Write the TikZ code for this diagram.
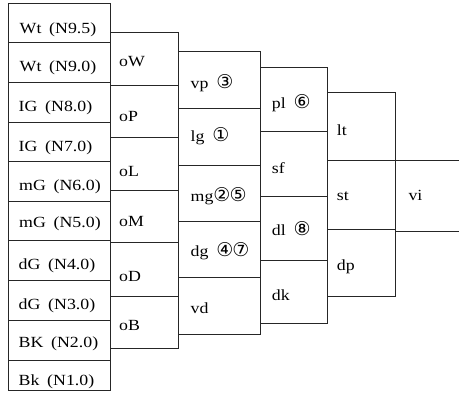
\documentclass[tikz,border=0pt]{standalone}
\usepackage{fontspec}
\setmainfont[FakeStretch=1.15]{Liberation Serif}
\newfontfamily\circfont{DejaVu Sans}
\newcommand\cn[1]{{\circfont\fontsize{19}{19}\selectfont #1}}
\newcommand\gapsp{\hspace{0.5em}}
\newcommand\cellbox[5]{\node[cellst, anchor=north west, minimum width={(#4-#2)*1pt}, minimum height={(#5-#3)*1pt}] (#1) at (#2,#3) {};}
\begin{document}
\begin{tikzpicture}[x=1pt,y=-1pt,
  cellst/.style={draw=black!85, line width=0.7pt, inner sep=0pt, outer sep=0pt},
  lbl/.style={anchor=base west, inner sep=0pt, font=\fontsize{15.5}{16}\selectfont, text=black},
  edge/.style={draw=black!85, line width=0.7pt}]
\useasboundingbox (0,0) rectangle (459,392);
% column 1
\cellbox{a1}{8}{3}{110.7}{42.7}
\cellbox{a2}{8}{42.7}{110.7}{82.4}
\cellbox{a3}{8}{82.4}{110.7}{122.1}
\cellbox{a4}{8}{122.1}{110.7}{161.8}
\cellbox{a5}{8}{161.8}{110.7}{201.3}
\cellbox{a6}{8}{201.3}{110.7}{240.8}
\cellbox{a7}{8}{240.8}{110.7}{280.3}
\cellbox{a8}{8}{280.3}{110.7}{320.6}
\cellbox{a9}{8}{320.6}{110.7}{360.3}
\cellbox{a10}{8}{360.3}{110.7}{390}
\node[lbl] (ta1) at (19.5,33.3) {Wt\gapsp(N9.5)};
\node[lbl] (ta2) at (19.5,71.7) {Wt\gapsp(N9.0)};
\node[lbl] (ta3) at (18.5,111.7) {IG\gapsp(N8.0)};
\node[lbl] (ta4) at (18.5,151.7) {IG\gapsp(N7.0)};
\node[lbl] (ta5) at (19,190) {mG\gapsp(N6.0)};
\node[lbl] (ta6) at (19,227) {mG\gapsp(N5.0)};
\node[lbl] (ta7) at (18.5,269.5) {dG\gapsp(N4.0)};
\node[lbl] (ta8) at (18.5,309) {dG\gapsp(N3.0)};
\node[lbl] (ta9) at (18.5,347) {BK\gapsp(N2.0)};
\node[lbl] (ta10) at (18.5,385) {Bk\gapsp(N1.0)};
% column 2
\cellbox{b1}{110.7}{32.3}{178.3}{85}
\cellbox{b2}{110.7}{85}{178.3}{137.7}
\cellbox{b3}{110.7}{137.7}{178.3}{190.7}
\cellbox{b4}{110.7}{190.7}{178.3}{242.7}
\cellbox{b5}{110.7}{242.7}{178.3}{296.7}
\cellbox{b6}{110.7}{296.7}{178.3}{348.3}
\node[lbl] (tb1) at (119,66) {oW};
\node[lbl] (tb2) at (119,121.7) {oP};
\node[lbl] (tb3) at (119,176) {oL};
\node[lbl] (tb4) at (119,226) {oM};
\node[lbl] (tb5) at (119,281.7) {oD};
\node[lbl] (tb6) at (119,330) {oB};
% column 3
\cellbox{c1}{178.3}{51.7}{260}{108.3}
\cellbox{c2}{178.3}{108.3}{260}{165}
\cellbox{c3}{178.3}{165}{260}{221}
\cellbox{c4}{178.3}{221}{260}{277.7}
\cellbox{c5}{178.3}{277.7}{260}{334}
\node[lbl] (tc1) at (190.5,88.3) {vp\gapsp\cn{③}};
\node[lbl] (tc2) at (190.5,141.7) {lg\gapsp\cn{①}};
\node[lbl] (tc3) at (190.5,201.7) {mg\cn{②\kern-1pt⑤}};
\node[lbl] (tc4) at (190.5,256.7) {dg\gapsp\cn{④\kern-1pt⑦}};
\node[lbl] (tc5) at (190.5,313.3) {vd};
% column 4
\cellbox{d1}{260}{67.7}{327.7}{131.7}
\cellbox{d2}{260}{131.7}{327.7}{196}
\cellbox{d3}{260}{196}{327.7}{260}
\cellbox{d4}{260}{260}{327.7}{323.5}
\node[lbl] (td1) at (271.7,108.3) {pl\gapsp\cn{⑥}};
\node[lbl] (td2) at (271.7,173.3) {sf};
\node[lbl] (td3) at (271.7,235.7) {dl\gapsp\cn{⑧}};
\node[lbl] (td4) at (271.7,300.7) {dk};
% column 5
\cellbox{e1}{327.7}{92}{395.7}{160}
\cellbox{e2}{327.7}{160}{395.7}{229}
\cellbox{e3}{327.7}{229}{395.7}{296.7}
\node[lbl] (te1) at (336.7,135) {lt};
\node[lbl] (te2) at (336.7,200.7) {st};
\node[lbl] (te3) at (336.7,270.7) {dp};
% column 6
\coordinate (viNE) at (459,160);
\coordinate (viSW) at (395.7,231);
\coordinate (viSE) at (459,231);
\draw[edge] (e2.north east) -- (viNE);
\draw[edge] (viSW) -- (viSE);
\node[lbl] (vi) at (408.3,200.7) {vi};
\end{tikzpicture}
\end{document}
